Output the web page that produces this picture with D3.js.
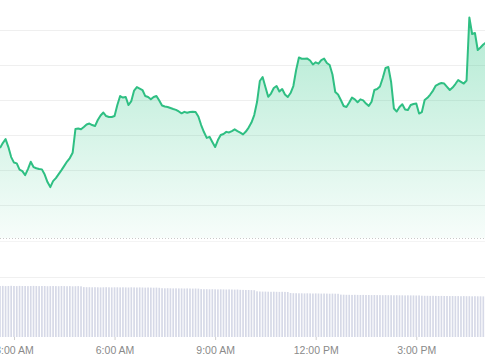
<!DOCTYPE html>
<html>
<head>
<meta charset="utf-8">
<script src="https://cdn.jsdelivr.net/npm/d3@7"></script>
<style>
  body { margin: 0; background: #fff; }
  #chart-area svg { display: block; }
  .x-axis text { font-family: "Liberation Sans", Arial, sans-serif; font-size: 10.5px; fill: #8a8a8a; }
  .x-axis line { stroke: #cfcfcf; }
</style>
</head>
<body>
<div id="chart-area"></div>
<script>
// 5 minute samples, first one at 02:35
var startTime = "2024-05-20 02:35";
var endTime = "2024-05-20 17:03";

var prices = [
  3406.29, 3407.71, 3408.86, 3406.57, 3403.71, 3402.14, 3401.91, 3400.14, 3399.71, 3398.57,
  3400.29, 3402.37, 3400.86, 3400.51, 3400.29, 3400.20, 3398.71, 3396.57, 3395.14, 3396.86,
  3397.71, 3398.86, 3400.00, 3401.20, 3402.43, 3403.43, 3404.94, 3411.71, 3411.86, 3411.66,
  3412.29, 3413.00, 3413.29, 3412.86, 3412.57, 3414.29, 3415.57, 3416.43, 3415.43, 3415.14,
  3415.14, 3415.43, 3418.57, 3421.14, 3420.71, 3420.86, 3418.57, 3419.71, 3422.71, 3423.71,
  3423.29, 3422.86, 3421.14, 3420.86, 3420.20, 3420.86, 3421.14, 3419.86, 3418.43, 3418.14,
  3418.00, 3417.71, 3417.43, 3417.20, 3416.74, 3416.20, 3416.63, 3416.37, 3416.57, 3416.66,
  3416.57, 3415.29, 3412.86, 3410.86, 3409.20, 3409.49, 3408.00, 3406.57, 3408.57, 3410.00,
  3410.29, 3410.91, 3410.74, 3411.14, 3411.63, 3411.14, 3410.71, 3410.20, 3411.00, 3412.14,
  3413.57, 3415.71, 3419.43, 3425.43, 3426.57, 3423.71, 3420.94, 3421.86, 3423.43, 3424.00,
  3422.43, 3423.14, 3421.57, 3420.86, 3422.00, 3424.00, 3428.57, 3432.14, 3431.80, 3431.77,
  3431.83, 3431.29, 3430.14, 3430.77, 3430.40, 3431.43, 3431.83, 3430.57, 3430.00, 3427.29,
  3422.29, 3421.57, 3420.00, 3418.29, 3418.00, 3419.29, 3420.71, 3420.20, 3419.37, 3420.20,
  3419.91, 3419.00, 3418.34, 3419.51, 3422.86, 3423.14, 3423.86, 3426.29, 3429.14, 3429.43,
  3425.14, 3417.57, 3416.71, 3418.00, 3418.80, 3417.31, 3417.14, 3418.57, 3418.86, 3419.00,
  3416.14, 3416.57, 3420.00, 3420.63, 3421.57, 3422.71, 3424.14, 3424.57, 3424.86, 3424.71,
  3423.77, 3422.86, 3423.57, 3424.57, 3425.71, 3425.20, 3424.71, 3425.57, 3443.57, 3438.86,
  3439.14, 3434.29, 3435.00, 3435.86, 3436.43
];

// volume (millions)
var volumes = [
  510, 511, 509, 510, 512, 510, 509, 511, 510, 510, 509, 510, 511, 510, 509, 510, 510, 508, 509, 510,
  509, 508, 510, 509, 508, 509, 507, 508, 509, 507,
  499, 498, 498, 497, 498, 497, 496, 497, 498, 497, 496, 497, 497, 496, 497, 496, 495, 497, 496, 495,
  496, 495, 494, 495, 494, 493, 494, 492,
  488, 487, 488, 487, 486, 487, 486, 486, 485, 486, 485, 484, 485, 484,
  479, 478, 478, 477, 478, 477, 476, 477, 476, 475, 476, 475, 474, 475,
  472, 471, 470, 470, 469, 468,
  457, 455, 454, 454, 453, 452, 453, 452, 451, 452, 451, 450,
  440, 438, 438, 437, 437, 436, 437, 436, 435, 436, 435, 434, 435, 434, 433, 434, 433, 432,
  424, 423, 422, 422, 421, 422, 421, 420, 421, 420, 420, 419, 420, 419, 419, 418, 419, 418, 418, 417,
  418, 417, 417, 416, 417, 416, 416, 415, 416,
  413, 412, 412, 411, 412, 411, 410, 411, 410, 410, 409, 410, 409, 409, 408, 409, 408, 408, 407, 408,
  407, 407, 406, 407
];

var gridPrices = [3390, 3400, 3410, 3420, 3430, 3440];
var tickTimes = ["2024-05-20 03:00", "2024-05-20 06:00", "2024-05-20 09:00", "2024-05-20 12:00", "2024-05-20 15:00"];

var width = 485;
var height = 360;
var priceTop = -5;
var priceBottom = 238;
var volTop = 277;
var volBottom = 337;

var parseTime = d3.timeParse("%Y-%m-%d %H:%M");
var formatTick = d3.timeFormat("%-I:%M %p");

var t0 = parseTime(startTime);
var data = prices.map(function(p, i){
  return { time: d3.timeMinute.offset(t0, 5 * i), price: p, volume: volumes[i] };
});

var svg = d3.select("#chart-area")
  .append("svg")
  .attr("width", width)
  .attr("height", height);

var x = d3.scaleTime()
  .domain([t0, parseTime(endTime)])
  .range([0, width]);

var y = d3.scaleLinear()
  .domain([3380.6, 3450])
  .range([priceBottom, priceTop]);

var yVol = d3.scaleLinear()
  .domain([0, 600])
  .range([volBottom, volTop]);

var grad = svg.append("defs").append("linearGradient")
  .attr("id", "area-fill")
  .attr("gradientUnits", "userSpaceOnUse")
  .attr("x1", 0).attr("x2", 0)
  .attr("y1", y(d3.max(prices)))
  .attr("y2", priceBottom);
grad.append("stop").attr("offset", "0%").attr("stop-color", "#34c88a").attr("stop-opacity", 0.38);
grad.append("stop").attr("offset", "100%").attr("stop-color", "#34c88a").attr("stop-opacity", 0.04);

// horizontal grid
svg.append("g")
  .selectAll("line")
  .data(gridPrices)
  .enter()
  .append("line")
  .attr("x1", 0)
  .attr("x2", width)
  .attr("y1", function(d){ return Math.round(y(d)) + 0.5; })
  .attr("y2", function(d){ return Math.round(y(d)) + 0.5; })
  .attr("stroke", "#efefef");

svg.append("path")
  .datum(data)
  .attr("fill", "url(#area-fill)")
  .attr("d", d3.area()
    .x(function(d){ return x(d.time); })
    .y0(priceBottom)
    .y1(function(d){ return y(d.price); }));

svg.append("path")
  .datum(data)
  .attr("fill", "none")
  .attr("stroke", "#2fbf83")
  .attr("stroke-width", 2)
  .attr("stroke-linejoin", "round")
  .attr("d", d3.line()
    .x(function(d){ return x(d.time); })
    .y(function(d){ return y(d.price); }));

// baseline of price pane
svg.append("line")
  .attr("x1", 0).attr("x2", width)
  .attr("y1", priceBottom + 0.5).attr("y2", priceBottom + 0.5)
  .attr("stroke", "#c9c9c9")
  .attr("stroke-dasharray", "1,2");

svg.append("line")
  .attr("x1", 0).attr("x2", width)
  .attr("y1", priceBottom + 3.5).attr("y2", priceBottom + 3.5)
  .attr("stroke", "#f4f4f4");

svg.append("line")
  .attr("x1", 0).attr("x2", width)
  .attr("y1", volTop + 0.5).attr("y2", volTop + 0.5)
  .attr("stroke", "#f0f0f0");

// volume bars
var step = x(data[1].time) - x(data[0].time);
svg.append("g")
  .selectAll("rect")
  .data(data)
  .enter()
  .append("rect")
  .attr("x", function(d){ return x(d.time) - step * 0.3; })
  .attr("width", step * 0.6)
  .attr("y", function(d){ return yVol(d.volume); })
  .attr("height", function(d){ return volBottom - yVol(d.volume); })
  .attr("fill", "#d6d9e7");

var xAxisCall = d3.axisBottom(x)
  .tickValues(tickTimes.map(parseTime))
  .tickFormat(formatTick)
  .tickSize(3)
  .tickPadding(6.5);

var xAxisGroup = svg.append("g")
  .attr("class", "x-axis")
  .attr("transform", "translate(0, " + volBottom + ")")
  .call(xAxisCall);

xAxisGroup.select(".domain").remove();
</script>
</body>
</html>
